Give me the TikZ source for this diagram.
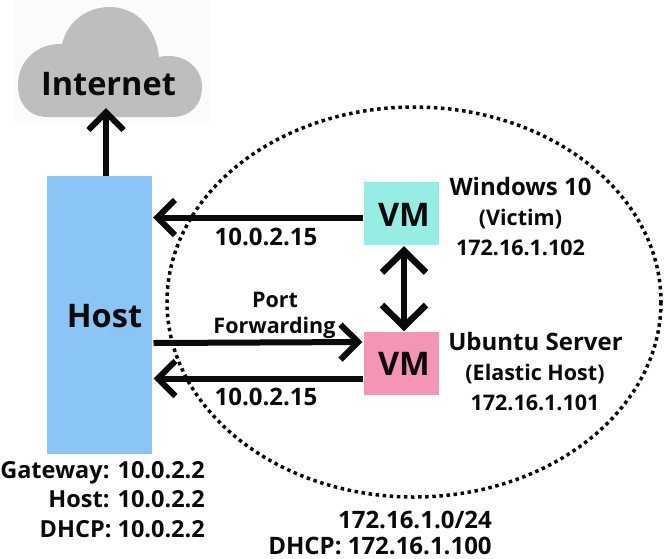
\documentclass[tikz,border=0pt]{standalone}
\usepackage{fontspec}
\setmainfont{Open Sans}
\usetikzlibrary{arrows.meta}
\definecolor{hostblue}{HTML}{8BC4F6}
\definecolor{vmteal}{HTML}{95EDE3}
\definecolor{vmpink}{HTML}{F595B5}
\definecolor{cloudgray}{HTML}{BEBEBE}
\definecolor{cloudbg}{HTML}{FBFBFB}
\definecolor{ink}{HTML}{0A0A0A}
\newcommand{\lbl}[1]{\bfseries\fontsize{#1}{#1}\selectfont}
\pgfdeclarearrow{
  name=Chev,
  parameters={\the\pgfarrowlength,\the\pgfarrowwidth},
  setup code={\pgfarrowssettipend{0pt}\pgfarrowssetlineend{-5pt}\pgfarrowssetbackend{-\pgfarrowlength}\pgfarrowssetvisualbackend{-5pt}},
  drawing code={\pgfsetdash{}{0pt}\pgfsetmiterjoin\pgfsetbuttcap
    \pgfpathmoveto{\pgfqpoint{-\pgfarrowlength}{0.5\pgfarrowwidth}}%
    \pgfpathlineto{\pgfqpoint{-4.3pt}{0pt}}%
    \pgfpathlineto{\pgfqpoint{-\pgfarrowlength}{-0.5\pgfarrowwidth}}%
    \pgfusepathqstroke},
  defaults={length=22pt,width=35pt}
}
\tikzset{
  x=1pt,y=-1pt,
  box/.style={draw=none,inner sep=0pt,anchor=north west},
  txt/.style={text=ink,inner sep=0pt,anchor=base,font=\lbl{24pt}},
  mid/.style={text=ink,inner sep=0pt,anchor=base,font=\lbl{21.5pt}},
  big/.style={text=ink,inner sep=0pt,anchor=base,font=\lbl{32.5pt}},
  conn/.style={draw=ink,line width=6pt,{Chev}-},
  connB/.style={draw=ink,line width=6pt,-{Chev}},
  connBoth/.style={draw=ink,line width=6.5pt,{Chev[length=26pt,width=44pt]}-{Chev[length=26pt,width=44pt]}},
}
\begin{document}
\begin{tikzpicture}
\useasboundingbox (0,0) rectangle (664,558);
\fill[white] (0,0) rectangle (664,558);
% cloud
\fill[cloudbg] (14,0) rectangle (210,124);
\fill[cloudgray] (48,117) .. controls (28,117) and (18,103) .. (18,85)
  .. controls (18,60) and (38,43) .. (62,44)
  .. controls (68,20) and (88,7) .. (110,7)
  .. controls (136,7) and (156,28) .. (159,57)
  .. controls (182,52) and (202,66) .. (202,87)
  .. controls (202,105) and (190,117) .. (172,117) -- cycle;
% subnet ring
\draw[ink,line width=3.5pt,dash pattern=on 3.5pt off 3.6pt] (414,302) ellipse [x radius=247,y radius=195];
% boxes
\node[box,fill=hostblue,minimum width=105.5pt,minimum height=278pt] (host) at (46.5,176) {};
\node[box,fill=vmteal,minimum width=75pt,minimum height=63pt] (vma) at (364,182) {};
\node[box,fill=vmpink,minimum width=75pt,minimum height=63pt] (vmb) at (364,332) {};
\node[big] (internet) at (108.5,95) {Internet};
\node[big] (hostlbl) at (104.5,327) {Host};
\node[big] (vmalbl) at (404,226) {VM};
\node[big] (vmblbl) at (404,375) {VM};
% named endpoints
\coordinate (cloudb) at (106,108);
\coordinate (hosttop) at (106,176);
\coordinate (ha) at (153,217.5);
\coordinate (va) at (363,217.5);
\coordinate (hb) at (153.5,343);
\coordinate (vb) at (362.5,342);
\coordinate (hc) at (153.5,378.5);
\coordinate (vc) at (363,378.5);
\coordinate (vtop) at (404,246.5);
\coordinate (vbot) at (404,331);
% connectors
\draw[connB] (hosttop) -- (cloudb);
\draw[conn] (ha) -- (va);
\draw[connB] (hb) -- (vb);
\draw[conn] (hc) -- (vc);
\draw[connBoth] (vtop) -- (vbot);
% labels
\node[txt] (ipa) at (266,245) {10.0.2.15};
\node[txt] (ipc) at (266,405) {10.0.2.15};
\node[mid] (pf1) at (275,307) {Port};
\node[mid] (pf2) at (274.5,333) {Forwarding};
\node[txt] (w1) at (520.5,195) {Windows 10};
\node[mid] (w2) at (520.5,225) {(Victim)};
\node[mid] (w3) at (520.5,255) {172.16.1.102};
\node[txt] (u1) at (535.5,350) {Ubuntu Server};
\node[mid] (u2) at (535,380) {(Elastic Host)};
\node[mid] (u3) at (535,410) {172.16.1.101};
\node[txt,font=\lbl{23.5pt},anchor=base east] (g1) at (205,478) {Gateway: 10.0.2.2};
\node[txt,font=\lbl{23.5pt},anchor=base east] (g2) at (205,507) {Host: 10.0.2.2};
\node[txt,font=\lbl{23.5pt},anchor=base east] (g3) at (205,537) {DHCP: 10.0.2.2};
\node[txt] (n1) at (415,528) {172.16.1.0/24};
\node[txt] (n2) at (380,554.5) {DHCP: 172.16.1.100};
\end{tikzpicture}
\end{document}
